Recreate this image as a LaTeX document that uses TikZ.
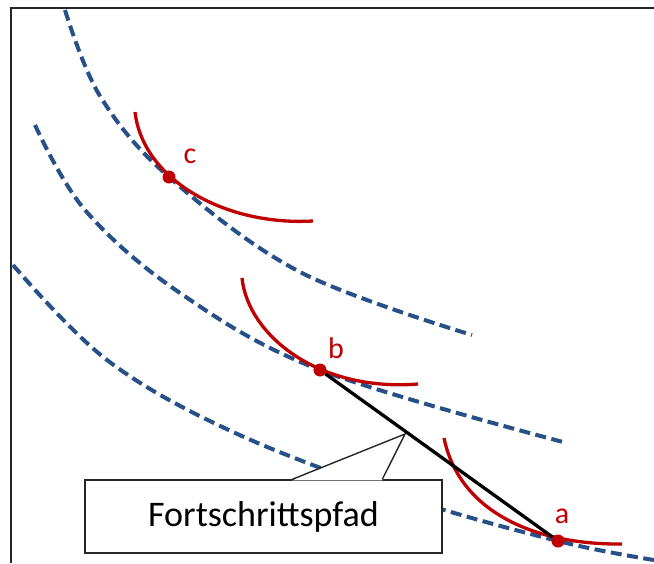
\documentclass[tikz,border=0pt]{standalone}
\usepackage{fontspec}
\setmainfont{Carlito}
\usetikzlibrary{calc}
\definecolor{curveblue}{RGB}{38,80,135}
\definecolor{arcred}{RGB}{192,0,0}
\begin{document}
\begin{tikzpicture}[x=1pt,y=-1pt,
  iso/.style={draw=curveblue, line width=4pt, dash pattern=on 11pt off 5.5pt},
  tang/.style={draw=arcred, line width=3.3pt},
  ptdot/.style={circle, fill=arcred, inner sep=0pt, minimum size=13pt},
  ptlabel/.style={text=arcred, inner sep=0pt, font=\fontsize{30}{34}\selectfont},
  frameline/.style={draw=black!85, line width=1.5pt},
  callbox/.style={draw=black!85, fill=white, line width=1.4pt, minimum width=357pt, minimum height=73pt, inner sep=0pt, font=\fontsize{36}{40}\selectfont},
  pathline/.style={draw=black, line width=3.3pt}]
\useasboundingbox (0,0) rectangle (654,563);
% frame
\draw[frameline] (11,563) -- (11,8) -- (654,8);
% dashed curves
\draw[iso] plot[smooth, tension=0.6] coordinates {(65,10) (100,96) (169,177) (300,272) (472,335)};
\draw[iso] plot[smooth, tension=0.6] coordinates {(35,125) (85,210) (180,293) (320,370) (563,442)};
\draw[iso] plot[smooth, tension=0.6] coordinates {(13,265) (107,360) (233,432) (400,496) (558,541) (654,560)};
% red arcs
\draw[tang] (135,112) .. controls (143,180) and (225,226) .. (313,221);
\draw[tang] (242,278) .. controls (248,335) and (318,392) .. (418,384);
\draw[tang] (444,438) .. controls (460,515) and (540,545) .. (622,544);
% callout
\node[callbox] (box) at (263.5,516.5) {Fortschrittspfad};
\coordinate (tip) at (405,434);
\fill[white] ($(box.north west)+(208,1)$) -- (tip) -- ($(box.north west)+(298,1)$) -- cycle;
\draw[draw=black!85, line width=1.4pt] ($(box.north west)+(208,0)$) -- (tip) -- ($(box.north west)+(298,0)$);
% points
\node[ptdot] (a) at (558,541) {};
\node[ptdot] (b) at (320,370) {};
\node[ptdot] (c) at (169,177) {};
\draw[pathline] (b) -- (a);
\node[ptlabel] (la) at (562,516) {a};
\node[ptlabel] (lb) at (336,348) {b};
\node[ptlabel] (lc) at (190,156) {c};
\end{tikzpicture}
\end{document}
